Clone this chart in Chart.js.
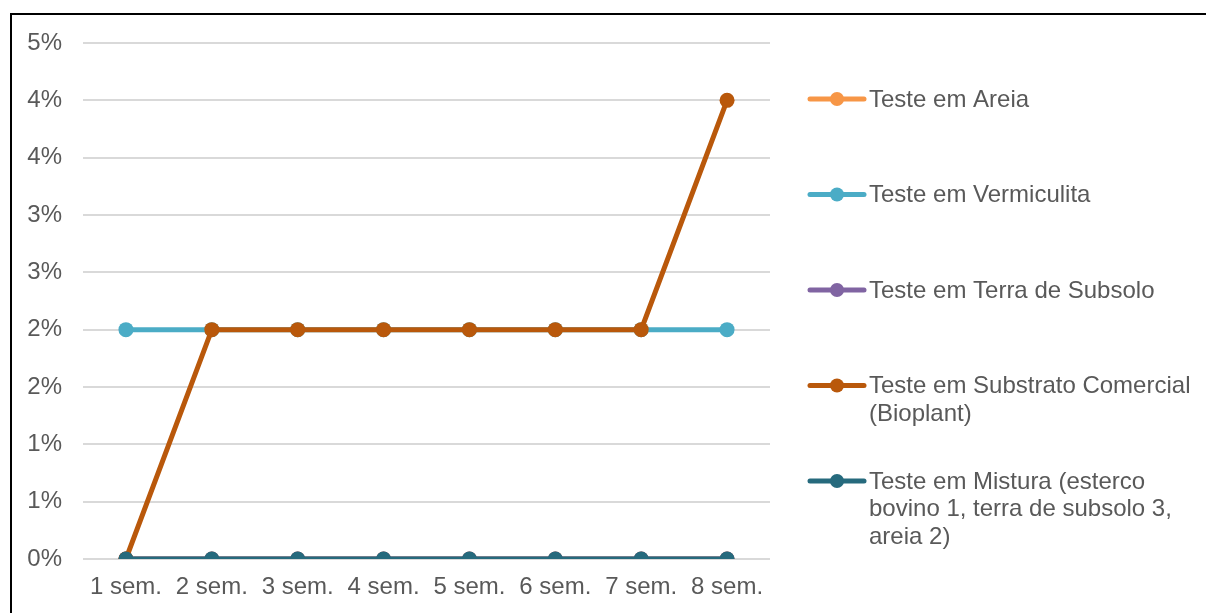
<!DOCTYPE html>
<html>
<head>
<meta charset="utf-8">
<script src="https://cdn.jsdelivr.net/npm/chart.js@4.4.1/dist/chart.umd.min.js"></script>
<style>
  html, body { margin: 0; padding: 0; width: 1206px; height: 613px; overflow: hidden; background: #fff; }
  #frame { position: absolute; left: 10px; top: 13px; width: 1400px; height: 800px; border: 2px solid #000; box-sizing: border-box; }
  #wrap { position: absolute; left: 0; top: 0; width: 1206px; height: 613px; }
</style>
</head>
<body>
<div id="frame"></div>
<div id="wrap"><canvas id="c" width="1206" height="613"></canvas></div>
<script>
// Weeks of observation
const weeks = ['1 sem.', '2 sem.', '3 sem.', '4 sem.', '5 sem.', '6 sem.', '7 sem.', '8 sem.'];

// Values per substrate, in percent
const areia       = [0, 0, 0, 0, 0, 0, 0, 0];
const vermiculita = [2, 2, 2, 2, 2, 2, 2, 2];
const terra       = [0, 0, 0, 0, 0, 0, 0, 0];
const substrato   = [0, 2, 2, 2, 2, 2, 2, 4];
const mistura     = [0, 0, 0, 0, 0, 0, 0, 0];

// Axis: 0 to 4.5 in steps of 0.5, labelled with whole percentages
const yTickValues = [0, 0.5, 1, 1.5, 2, 2.5, 3, 3.5, 4, 4.5];
const yTickLabels = ['0%', '1%', '1%', '2%', '2%', '3%', '3%', '4%', '4%', '5%'];

const seriesNames = [
  'Teste em Areia',
  'Teste em Vermiculita',
  'Teste em Terra de Subsolo',
  'Teste em Substrato Comercial (Bioplant)',
  'Teste em Mistura (esterco bovino 1, terra de subsolo 3, areia 2)'
];
const seriesColors = ['#F79646', '#4BACC6', '#8064A2', '#B9580B', '#266A7D'];
const seriesValues = [areia, vermiculita, terra, substrato, mistura];

const FONT = "'Liberation Sans', Arial, sans-serif";
const FONT_SIZE = 24;
const TEXT_COLOR = '#595959';

const datasets = seriesValues.map((vals, i) => ({
  label: seriesNames[i],
  data: vals,
  borderColor: seriesColors[i],
  backgroundColor: seriesColors[i],
  pointBackgroundColor: seriesColors[i],
  pointBorderColor: seriesColors[i],
  borderWidth: 5,
  pointRadius: 7.5,
  pointBorderWidth: 0,
  tension: 0,
  fill: false,
  // later series are painted over earlier ones
  order: seriesValues.length - i
}));

// Legend on the right with wrapped labels
const sideLegend = {
  id: 'sideLegend',
  afterDraw(chart) {
    const ctx = chart.ctx;
    const x0 = 810, x1 = 864, dotX = 837, textX = 869;
    const firstY = 99, step = 95.5, lineH = 27.5, maxW = 332;
    ctx.save();
    ctx.font = FONT_SIZE + 'px ' + FONT;
    ctx.textBaseline = 'middle';
    ctx.textAlign = 'left';
    chart.data.datasets.forEach((ds, i) => {
      const y = firstY + i * step;
      ctx.strokeStyle = ds.borderColor;
      ctx.lineWidth = 5;
      ctx.lineCap = 'round';
      ctx.beginPath();
      ctx.moveTo(x0, y);
      ctx.lineTo(x1, y);
      ctx.stroke();
      ctx.fillStyle = ds.borderColor;
      ctx.beginPath();
      ctx.arc(dotX, y, 7, 0, Math.PI * 2);
      ctx.fill();
      // word wrap
      const words = ds.label.split(' ');
      const lines = [];
      let cur = '';
      words.forEach(w => {
        const test = cur ? cur + ' ' + w : w;
        if (ctx.measureText(test).width > maxW && cur) {
          lines.push(cur);
          cur = w;
        } else {
          cur = test;
        }
      });
      if (cur) lines.push(cur);
      ctx.fillStyle = TEXT_COLOR;
      lines.forEach((ln, k) => ctx.fillText(ln, textX, y + 1 + k * lineH));
    });
    ctx.restore();
  }
};

new Chart(document.getElementById('c'), {
  type: 'line',
  data: { labels: weeks, datasets },
  options: {
    responsive: false,
    animation: false,
    devicePixelRatio: 1,
    layout: { padding: { left: 0, top: 43, right: 436, bottom: 0 } },
    plugins: { legend: { display: false }, tooltip: { enabled: false } },
    scales: {
      x: {
        offset: true,
        grid: { display: false, drawTicks: false },
        border: { display: false },
        ticks: {
          color: TEXT_COLOR,
          font: { family: FONT, size: FONT_SIZE },
          padding: 14,
          maxRotation: 0,
          autoSkip: false
        },
        afterFit(scale) { scale.height = 54; }
      },
      y: {
        min: 0,
        max: 4.5,
        afterBuildTicks(scale) { scale.ticks = yTickValues.map(v => ({ value: v })); },
        grid: { color: '#D9D9D9', lineWidth: 2, drawTicks: false },
        border: { display: false },
        ticks: {
          color: TEXT_COLOR,
          font: { family: FONT, size: FONT_SIZE },
          padding: 21,
          callback: (v, i) => yTickLabels[i]
        },
        afterFit(scale) { scale.width = 83; }
      }
    }
  },
  plugins: [sideLegend]
});
</script>
</body>
</html>
